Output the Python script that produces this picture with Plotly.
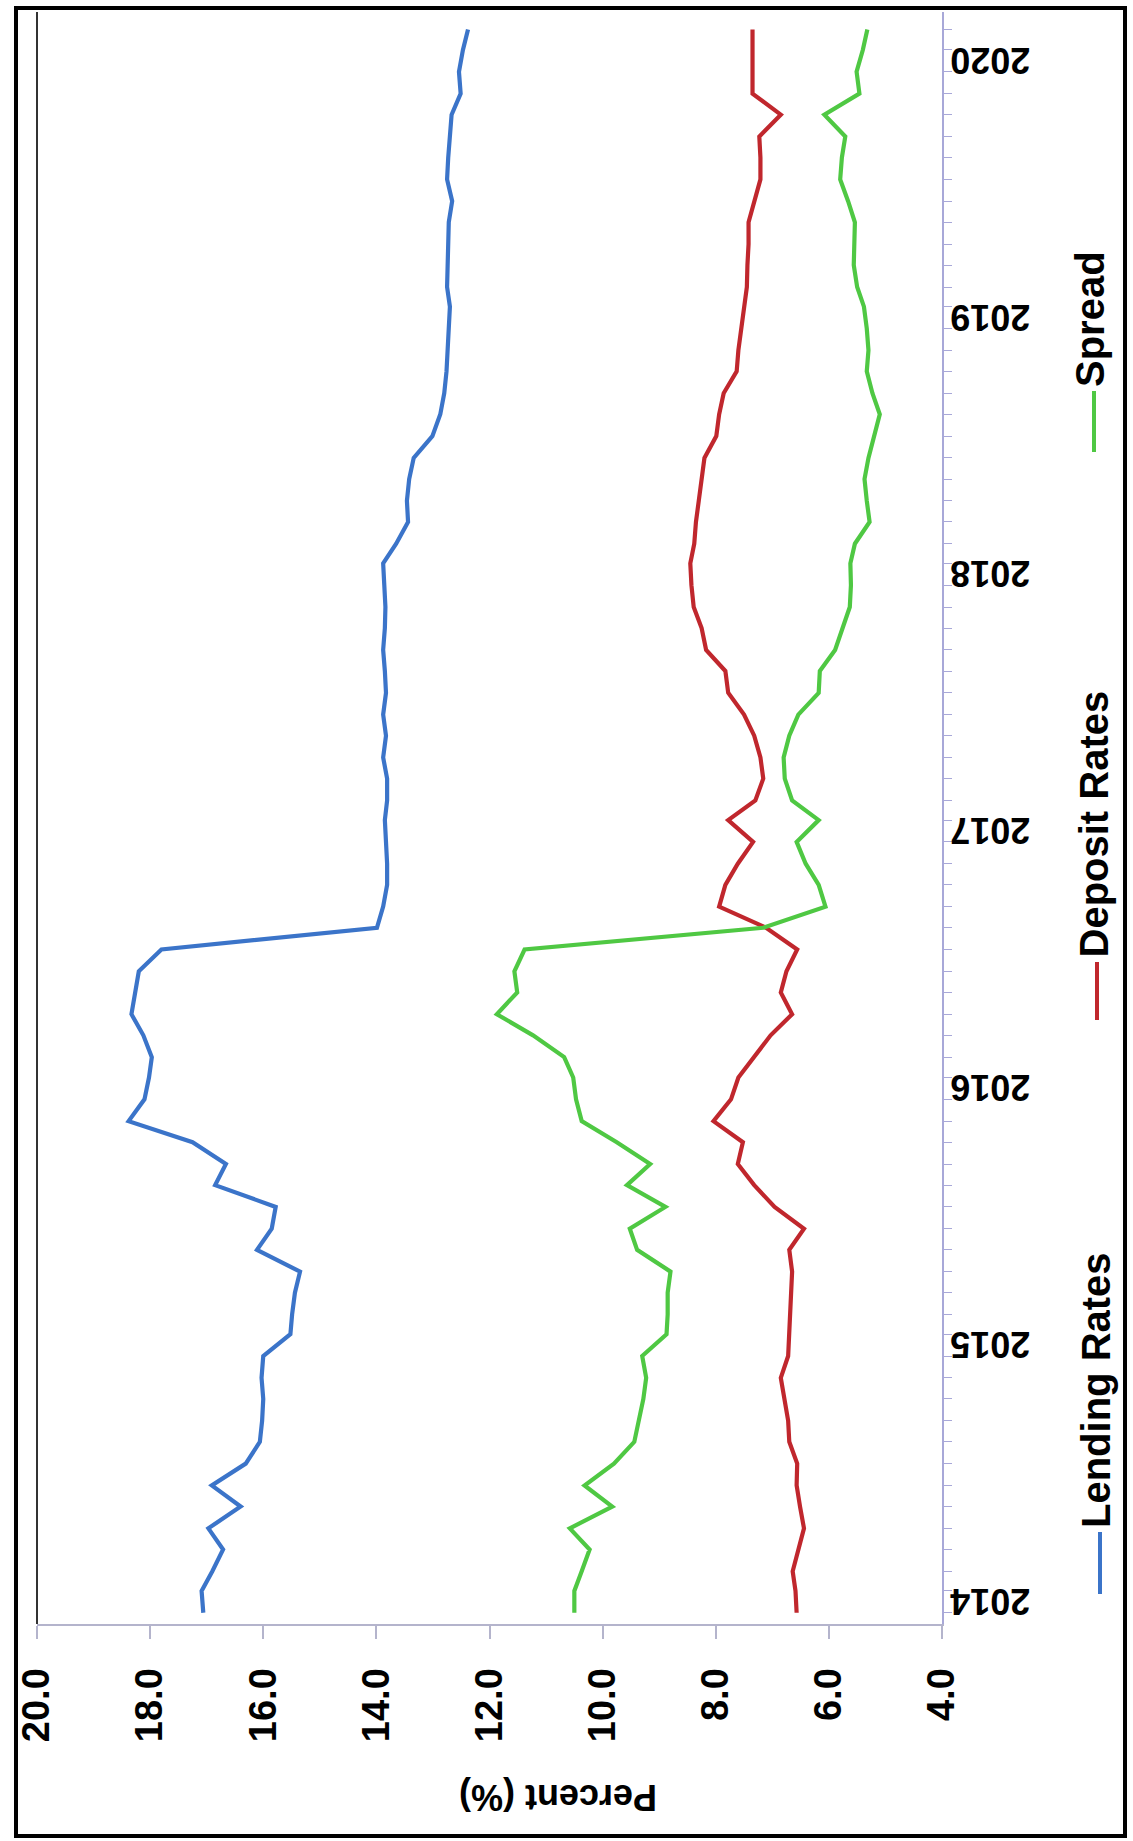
import plotly.graph_objects as go

# ---------------- data (monthly, Jan 2014 - Mar 2020) ----------------
months = [f"{2014 + i // 12}-{i % 12 + 1:02d}-01" for i in range(75)]

lending_rates = [
    17.06, 17.09, 16.90, 16.71, 16.97, 16.40, 16.91, 16.31, 16.06, 16.02, 16.00, 16.03,
    16.00, 15.52, 15.49, 15.44, 15.35, 16.11, 15.85, 15.78, 16.85, 16.66, 17.25, 18.38,
    18.10, 18.02, 17.97, 18.12, 18.33, 18.26, 18.20, 17.80, 13.99, 13.88, 13.81, 13.81,
    13.83, 13.85, 13.81, 13.81, 13.88, 13.83, 13.88, 13.83, 13.85, 13.88, 13.85, 13.84,
    13.86, 13.88, 13.65, 13.44, 13.46, 13.42, 13.34, 13.01, 12.87, 12.80, 12.76, 12.74,
    12.72, 12.70, 12.75, 12.74, 12.72, 12.72, 12.66, 12.75, 12.73, 12.70, 12.67, 12.51,
    12.54, 12.47, 12.38,
]
deposit_rates = [
    6.57, 6.59, 6.64, 6.54, 6.44, 6.51, 6.57, 6.56, 6.70, 6.72, 6.78, 6.85,
    6.72, 6.70, 6.68, 6.67, 6.65, 6.70, 6.44, 6.96, 7.32, 7.61, 7.52, 8.04,
    7.73, 7.60, 7.32, 7.03, 6.65, 6.85, 6.75, 6.56, 7.11, 7.94, 7.83, 7.61,
    7.34, 7.78, 7.30, 7.16, 7.21, 7.32, 7.50, 7.78, 7.83, 8.17, 8.25, 8.39,
    8.43, 8.45, 8.38, 8.35, 8.30, 8.25, 8.20, 7.99, 7.94, 7.86, 7.63, 7.60,
    7.55, 7.50, 7.45, 7.44, 7.42, 7.42, 7.32, 7.21, 7.21, 7.23, 6.85, 7.35,
    7.35, 7.35, 7.35,
]
spread = [
    10.50, 10.50, 10.37, 10.23, 10.58, 9.83, 10.32, 9.80, 9.44, 9.37, 9.28, 9.23,
    9.30, 8.87, 8.85, 8.85, 8.80, 9.39, 9.52, 8.89, 9.57, 9.16, 9.75, 10.37,
    10.47, 10.52, 10.68, 11.23, 11.87, 11.51, 11.56, 11.38, 7.16, 6.06, 6.18, 6.41,
    6.57, 6.18, 6.65, 6.78, 6.80, 6.70, 6.54, 6.18, 6.16, 5.89, 5.75, 5.63,
    5.61, 5.62, 5.54, 5.28, 5.33, 5.37, 5.30, 5.20, 5.10, 5.23, 5.33, 5.30,
    5.33, 5.38, 5.50, 5.56, 5.55, 5.54, 5.66, 5.80, 5.77, 5.71, 6.08, 5.46,
    5.51, 5.40, 5.32,
]

series_names = ["Lending Rates", "Deposit Rates", "Spread"]
series_colors = ["#3B74C9", "#C0272D", "#4FC843"]

year_labels = ["2014", "2015", "2016", "2017", "2018", "2019", "2020"]
year_tick_dates = [f"{y}-01-16" for y in year_labels]
percent_ticks = [20, 18, 16, 14, 12, 10, 8, 6, 4]

# ---------------- layout geometry (pixels) ----------------
W, H = 1133, 1841
ML, MR, MT, MB = 37, 191, 12, 217
PW = W - ML - MR
PH = H - MT - MB


def px(x):
    return (x - ML) / PW


def py(y):
    return (H - MB - y) / PH


FONT = "Liberation Sans, Arial, sans-serif"

fig = go.Figure()
for name, vals, col in zip(series_names, [lending_rates, deposit_rates, spread], series_colors):
    fig.add_trace(go.Scatter(
        x=vals, y=months, mode="lines", name=name,
        line=dict(color=col, width=4.2), showlegend=False,
    ))

fig.update_layout(
    width=W, height=H,
    margin=dict(l=ML, r=MR, t=MT, b=MB, pad=0),
    paper_bgcolor="white", plot_bgcolor="white",
    xaxis=dict(
        range=[20, 4], tickvals=percent_ticks, tickformat=".1f",
        showgrid=False, zeroline=False,
        showline=True, linecolor="#B4B4CC", linewidth=2,
        ticks="outside", ticklen=13, tickcolor="#B4B4CC", tickwidth=1.5,
        tickangle=-90, ticklabelstandoff=14,
        tickfont=dict(family=FONT, size=38, color="black", weight="bold"),
    ),
    yaxis=dict(
        type="date", range=["2013-12-16", "2020-03-26"], side="right",
        tickmode="array", tickvals=year_tick_dates, ticktext=year_labels,
        showgrid=False, zeroline=False,
        showline=True, linecolor="#A8A8D8", linewidth=2,
        ticks="", tickangle=180, ticklabelstandoff=79, ticklabelshift=10,
        tickfont=dict(family=FONT, size=36, color="black", weight="bold"),
        minor=dict(tickmode="array", tickvals=months, ticks="outside",
                   ticklen=8, tickcolor="#A8A8D8", tickwidth=1.2, showgrid=False),
    ),
)

shapes = []
# plot left border
shapes.append(dict(type="line", xref="paper", yref="paper", x0=0, x1=0, y0=0, y1=1,
                   line=dict(color="#333333", width=2)))
# outer frame
shapes.append(dict(type="rect", xref="paper", yref="paper",
                   x0=px(16), x1=px(1125), y0=py(1836), y1=py(8),
                   line=dict(color="black", width=4)))

# legend: rotated text with short vertical line samples
legend_items = [
    ("Lending Rates", series_colors[0], 1100, 1532, 1594),
    ("Deposit Rates", series_colors[1], 1097, 962, 1020),
    ("Spread", series_colors[2], 1094, 391, 452),
]
annotations = []
for name, col, lx, ytop, ybot in legend_items:
    shapes.append(dict(type="line", xref="paper", yref="paper",
                       x0=px(lx), x1=px(lx), y0=py(ybot), y1=py(ytop),
                       line=dict(color=col, width=4)))
    annotations.append(dict(
        text=name, textangle=-90, xref="paper", yref="paper",
        x=px(lx - 4), y=py(ytop - 2), xanchor="center", yanchor="bottom",
        showarrow=False, font=dict(family=FONT, size=40, color="black", weight="bold"),
    ))

annotations.append(dict(
    text="Percent (%)", textangle=180, xref="paper", yref="paper",
    x=px(558), y=py(1798), xanchor="center", yanchor="middle",
    showarrow=False, font=dict(family=FONT, size=36, color="black", weight="bold"),
))

fig.update_layout(shapes=shapes, annotations=annotations)
fig.write_html(
    "out.html",
    config={"displayModeBar": False},
    post_script="document.body.style.margin='0';document.body.style.overflow='hidden';",
)
